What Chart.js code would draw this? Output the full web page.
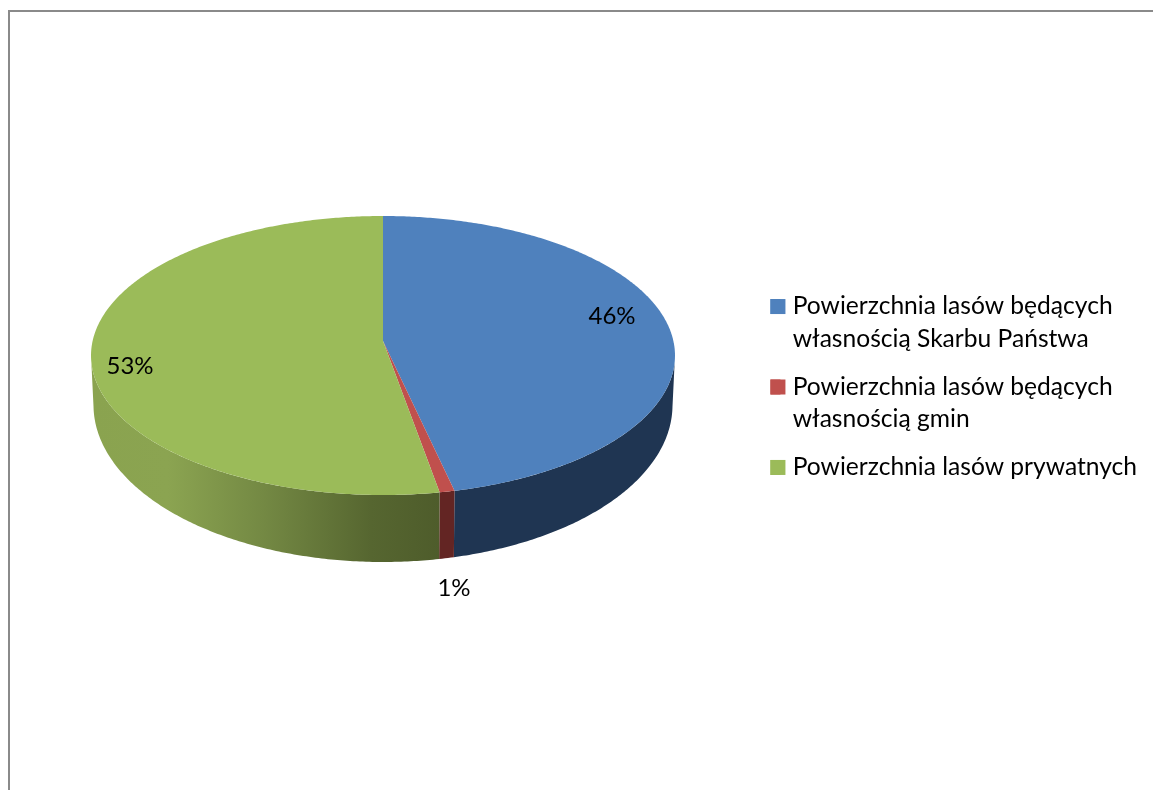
<!DOCTYPE html>
<html><head><meta charset="utf-8">
<style>html,body{margin:0;padding:0;background:#fff;overflow:hidden}
canvas{display:block}</style>
<script src="https://cdn.jsdelivr.net/npm/chart.js@4/dist/chart.umd.js"></script>
</head><body><canvas id="c" width="1153" height="790"></canvas>
<script>
const categories = [
  ["Powierzchnia lasów będących","własnością Skarbu Państwa"],
  ["Powierzchnia lasów będących","własnością gmin"],
  "Powierzchnia lasów prywatnych"
];
const shares = [46.45, 0.75, 52.8];
const topColors = ["#4f81bd","#c0504d","#9bbb59"];
const labelOffsets = [[612,316],[454,588],[130,366]];

const apex = {x:383,y:341}, R = 290.4, K = 0.104, A = 138;
const base = {cy:405, rx:289.5, ry:157, scale:289.5/292};
function project(theta){
  const u = Math.cos(theta), v = Math.sin(theta), d = 1 - K*v;
  return [apex.x + R*u/d, apex.y + A*v/d];
}
function projectBase(theta){
  const p = project(theta), dx = (p[0]-apex.x)*base.scale, t = Math.min(1,Math.abs(dx)/base.rx);
  return [apex.x + dx, base.cy + base.ry*Math.sqrt(1-t*t)];
}
function steps(a0,a1){ return Math.max(2, Math.ceil((a1-a0)/0.01)); }

const pie3d = {
  id:'pie3d',
  beforeDraw(chart){
    const {ctx,width,height} = chart;
    ctx.save();
    ctx.fillStyle='#fff'; ctx.fillRect(0,0,width,height);
    ctx.fillStyle='#8a8a8a';
    ctx.fillRect(8,10,width-8,2);
    ctx.fillRect(8,10,2,height-10);
    ctx.restore();
  },
  beforeDatasetDraw(chart,args){
    const ctx = chart.ctx, arcs = args.meta.data;
    const g = ctx.createLinearGradient(91,0,441,0);
    g.addColorStop(0,'#8aa34f'); g.addColorStop(0.22,'#8ba451');
    g.addColorStop(0.5,'#738843'); g.addColorStop(0.8,'#566630'); g.addColorStop(1,'#4e5c2b');
    const sideFill = ['#1f3552','#632523',g];
    const wide = Math.asin(K);
    ctx.save();
    arcs.forEach((arc,i)=>{
      const lo = Math.max(arc.startAngle,wide), hi = Math.min(arc.endAngle,Math.PI-wide);
      if(hi<=lo) return;
      const m = steps(lo,hi);
      ctx.beginPath();
      for(let k=0;k<=m;k++){const p=project(lo+(hi-lo)*k/m); k?ctx.lineTo(p[0],p[1]):ctx.moveTo(p[0],p[1]);}
      for(let k=m;k>=0;k--){const p=projectBase(lo+(hi-lo)*k/m); ctx.lineTo(p[0],p[1]);}
      ctx.closePath(); ctx.fillStyle=sideFill[i]; ctx.fill();
    });
    arcs.forEach((arc,i)=>{
      const a0 = arc.startAngle, a1 = arc.endAngle, n = steps(a0,a1);
      ctx.beginPath(); ctx.moveTo(apex.x,apex.y);
      for(let k=0;k<=n;k++){const p=project(a0+(a1-a0)*k/n); ctx.lineTo(p[0],p[1]);}
      ctx.closePath(); ctx.fillStyle=topColors[i]; ctx.fill();
    });
    ctx.fillStyle='#000'; ctx.font='24px Lato'; ctx.textAlign='center'; ctx.textBaseline='middle';
    shares.forEach((v,i)=>ctx.fillText(Math.round(v)+'%',labelOffsets[i][0],labelOffsets[i][1]));
    ctx.restore();
    return false;
  },
  afterDraw(chart){
    const ctx = chart.ctx, lg = chart.legend;
    ctx.save();
    lg.legendHitBoxes.forEach((hb,i)=>{
      ctx.fillStyle = topColors[i];
      ctx.fillRect(hb.left, hb.top+Math.max((24.6-15)/2,0), 15, 15);
    });
    ctx.restore();
  }
};

new Chart(document.getElementById('c'),{
  type:'pie',
  data:{labels:categories,datasets:[{data:shares,backgroundColor:topColors,borderWidth:0}]},
  options:{
    responsive:false,animation:false,
    layout:{padding:{top:0,right:6,bottom:16,left:0}},
    plugins:{
      tooltip:{enabled:false},
      legend:{position:'right',align:'center',
        labels:{color:'#000',font:{family:'Lato',size:24.6,lineHeight:1.31},boxWidth:10,boxHeight:15,padding:16}}
    }
  },
  plugins:[pie3d]
});
</script></body></html>
